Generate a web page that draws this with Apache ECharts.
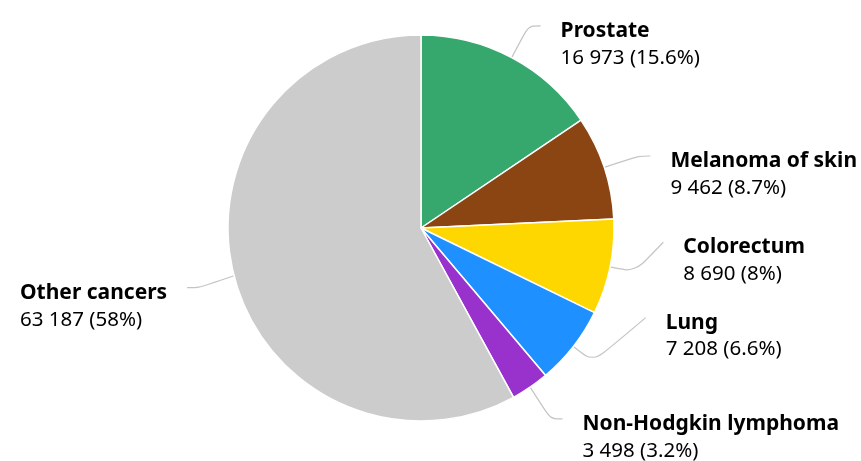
<!DOCTYPE html>
<html>
<head>
<meta charset="utf-8">
<script src="https://cdn.jsdelivr.net/npm/echarts@6/dist/echarts.min.js"></script>
<style>html,body{margin:0;padding:0;background:#fff;}#c{width:861px;height:461px;}</style>
</head>
<body>
<div id="c"></div>
<script>
var categories = ['Prostate', 'Melanoma of skin', 'Colorectum', 'Lung', 'Non-Hodgkin lymphoma', 'Other cancers'];
var values = [16973, 9462, 8690, 7208, 3498, 63187];
var colors = ['#36a86e', '#8b4513', '#ffd700', '#1e90ff', '#9932cc', '#cccccc'];

var total = values.reduce(function (a, b) { return a + b; }, 0);
function fmtNum(v) { return String(v).replace(/\B(?=(\d{3})+(?!\d))/g, ' '); }
function fmtPct(v) { return String(Math.round(v / total * 1000) / 10); }

// label nudges (layout only): [dx, dy]
var labelShift = {2: [6, -32], 3: [32, -51], 4: [0, 2], 5: [0, 3]};

var chart = echarts.init(document.getElementById('c'), null, {renderer: 'canvas'});
chart.setOption({
  animation: false,
  color: colors,
  series: [{
    type: 'pie',
    center: [421, 228],
    radius: 193,
    startAngle: 90,
    clockwise: true,
    avoidLabelOverlap: false,
    itemStyle: {borderColor: '#fff', borderWidth: 1.5},
    label: {
      show: true,
      fontFamily: 'Noto Sans',
      color: '#000',
      distanceToLabelLine: 20,
      padding: [37, 0, 0, 0],
      formatter: function (p) {
        return '{n|' + p.name + '}\n{v|' + fmtNum(p.value) + ' (' + fmtPct(p.value) + '%)}';
      },
      rich: {
        n: {fontFamily: 'Noto Sans', fontWeight: 'bold', fontSize: 21, lineHeight: 27, color: '#000', align: 'left'},
        v: {fontFamily: 'Noto Sans', fontSize: 20.5, lineHeight: 27, color: '#000', align: 'left'}
      }
    },
    labelLine: {
      show: true,
      length: 36,
      length2: 12,
      smooth: 0.3,
      lineStyle: {color: '#c4c4c4', width: 1.2}
    },
    labelLayout: function (params) {
      var s = labelShift[params.dataIndex];
      var pts = params.labelLinePoints;
      if (!s || !pts) return {};
      var p0 = pts[0], p1 = pts[1], p2 = pts[2];
      var big = Math.abs(s[1]) > 10;
      var np1 = big ? [p0[0] + 0.7 * (p1[0] - p0[0]), p0[1] + 0.7 * (p1[1] - p0[1])] : [p1[0], p1[1] + s[1]];
      var np2 = [p2[0] + s[0], p2[1] + s[1]];
      return {dx: s[0], dy: s[1], labelLinePoints: [p0, np1, np2]};
    },
    emphasis: {disabled: true},
    data: categories.map(function (c, i) { return {name: c, value: values[i]}; })
  }]
});
</script>
</body>
</html>
